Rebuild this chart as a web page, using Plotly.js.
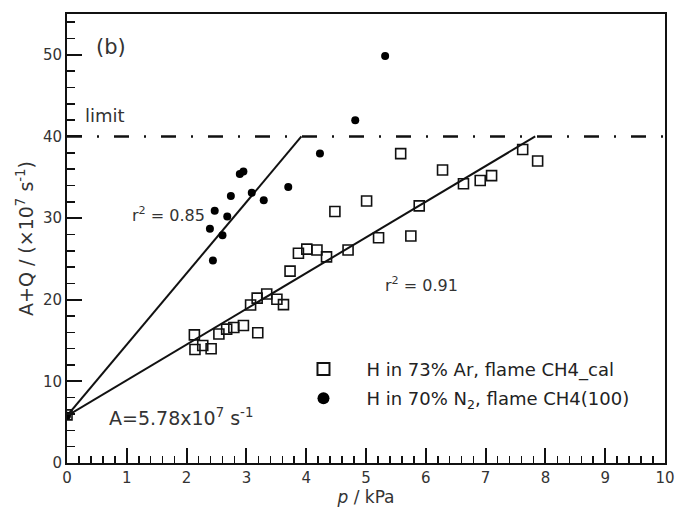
<!DOCTYPE html>
<html>
<head>
<meta charset="utf-8">
<script src="https://cdn.plot.ly/plotly-3.0.1.min.js"></script>
<style>html,body{margin:0;padding:0;background:#fff;}#chart{width:677px;height:512px;}</style>
</head>
<body>
<div id="chart"></div>
<script>
// H in 73% Ar, flame CH4_cal (open squares)
const arPressure = [0, 2.13, 2.14, 2.27, 2.41, 2.54, 2.67, 2.79, 2.95, 3.19, 3.07, 3.18, 3.34, 3.51, 3.62, 3.73, 3.87, 4.01, 4.18, 4.34, 4.70, 4.48, 5.01, 5.21, 5.75, 5.58, 5.89, 6.28, 6.63, 6.91, 7.10, 7.62, 7.87];
const arRate     = [5.9, 15.7, 13.9, 14.4, 14.0, 15.8, 16.4, 16.6, 16.85, 15.95, 19.35, 20.2, 20.7, 20.05, 19.4, 23.5, 25.7, 26.2, 26.1, 25.25, 26.1, 30.8, 32.1, 27.6, 27.8, 37.9, 31.5, 35.9, 34.2, 34.6, 35.2, 38.4, 37.0];
// H in 70% N2, flame CH4(100) (filled circles)
const n2Pressure = [0, 2.44, 2.39, 2.47, 2.60, 2.68, 2.74, 2.89, 2.95, 3.09, 3.29, 3.70, 4.23, 4.82, 5.32];
const n2Rate     = [5.78, 24.8, 28.7, 30.9, 27.9, 30.2, 32.7, 35.4, 35.7, 33.1, 32.2, 33.8, 37.9, 42.0, 49.85];
// Linear fits, ending at the limit
const fitArX = [0, 7.83], fitArY = [5.78, 40];
const fitN2X = [0, 3.92], fitN2Y = [5.78, 40];
// Limit line
const limitX = [0, 10], limitY = [40, 40];
const xTickVals = [0,1,2,3,4,5,6,7,8,9,10];
const yTickVals = [0,10,20,30,40,50];

const FONT = 'DejaVu Sans, Verdana, sans-serif';
const TXT = '#333333';

const traces = [
  {x: limitX, y: limitY, mode: 'lines', showlegend: false, hoverinfo: 'skip',
   line: {color: '#111', width: 2.5, dash: '15px,15px,2px,15px'}},
  {x: fitN2X, y: fitN2Y, mode: 'lines', showlegend: false, line: {color: '#111', width: 2}},
  {x: fitArX, y: fitArY, mode: 'lines', showlegend: false, line: {color: '#111', width: 2}},
  {x: arPressure, y: arRate, mode: 'markers', name: 'H in 73% Ar, flame CH4_cal', legendgroup: 'a',
   marker: {symbol: 'square-open', size: 10, color: '#111', line: {width: 1.6, color: '#111'}}},
  {x: n2Pressure, y: n2Rate, mode: 'markers', name: 'H in 70% N<sub>2</sub>, flame CH4(100)', legendgroup: 'b',
   marker: {symbol: 'circle', size: 8, color: '#000'}}
];

const axisCommon = {
  showgrid: false, zeroline: false, showline: true, mirror: true,
  linecolor: '#111', linewidth: 2, ticks: 'inside', tickcolor: '#111',
  tickwidth: 2, ticklen: 15, tickfont: {family: FONT, size: 15, color: TXT}
};

const layout = {
  width: 677, height: 512,
  margin: {l: 67, r: 12, t: 14, b: 49},
  paper_bgcolor: '#fff', plot_bgcolor: '#fff',
  font: {family: FONT, color: TXT},
  xaxis: Object.assign({}, axisCommon, {
    range: [0, 10], tickvals: xTickVals,
    minor: {dtick: 0.2, ticks: 'inside', ticklen: 7, tickwidth: 1.5, tickcolor: '#111'},
    title: {text: '<i>p</i> / kPa', font: {family: FONT, size: 17, color: TXT}, standoff: 2}
  }),
  yaxis: Object.assign({}, axisCommon, {
    range: [0, 55], tickvals: yTickVals,
    minor: {dtick: 2, ticks: 'inside', ticklen: 8, tickwidth: 1.5, tickcolor: '#111'},
    title: {text: 'A+Q / (×10<sup>7</sup> s<sup>-1</sup>)', font: {family: FONT, size: 19, color: TXT}, standoff: 4}
  }),
  legend: {
    x: 0.357, y: 0.25, xanchor: 'left', yanchor: 'top',
    bgcolor: 'rgba(0,0,0,0)', borderwidth: 0,
    font: {family: FONT, size: 18, color: '#222'},
    itemwidth: 76, itemsizing: 'constant', tracegroupgap: 3
  },
  showlegend: true,
  annotations: [
    {xref: 'paper', yref: 'paper', x: 0.074, y: 0.927, xanchor: 'center', yanchor: 'middle', text: '(b)', showarrow: false,
     font: {family: FONT, size: 21, color: TXT}},
    {xref: 'paper', yref: 'y', x: 0.064, y: 42.6, xanchor: 'center', yanchor: 'middle', text: 'limit', showarrow: false,
     font: {family: FONT, size: 18, color: TXT}},
    {xref: 'paper', yref: 'paper', x: 0.17, y: 0.553, xanchor: 'center', yanchor: 'middle', text: 'r<sup>2</sup> = 0.85', showarrow: false,
     font: {family: FONT, size: 16, color: TXT}},
    {xref: 'paper', yref: 'paper', x: 0.593, y: 0.397, xanchor: 'center', yanchor: 'middle', text: 'r<sup>2</sup> = 0.91', showarrow: false,
     font: {family: FONT, size: 16, color: TXT}},
    {xref: 'paper', yref: 'paper', x: 0.19, y: 0.103, xanchor: 'center', yanchor: 'middle', text: 'A=5.78x10<sup>7</sup> s<sup>-1</sup>', showarrow: false,
     font: {family: FONT, size: 19, color: TXT}}
  ]
};

Plotly.newPlot('chart', traces, layout, {displayModeBar: false, staticPlot: true});
</script>
</body>
</html>
